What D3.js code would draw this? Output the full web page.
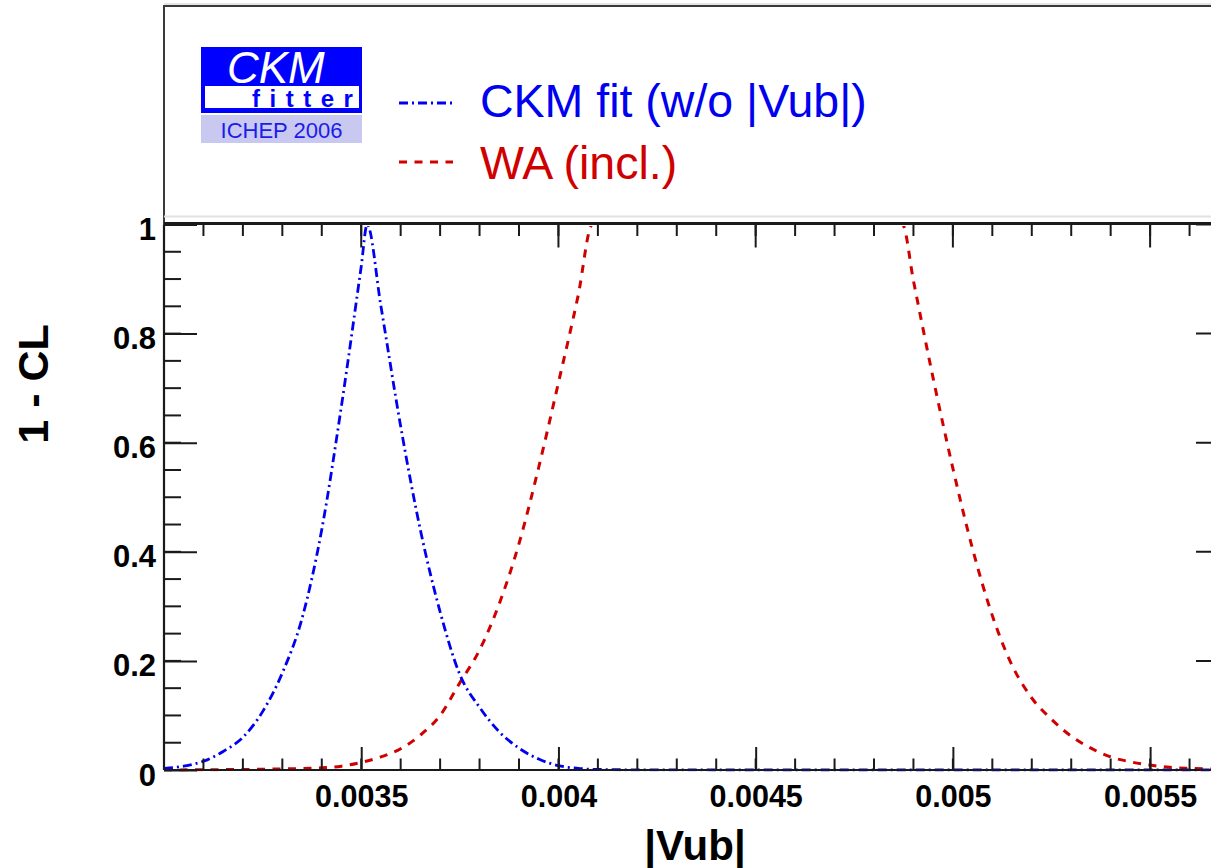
<!DOCTYPE html>
<html>
<head>
<meta charset="utf-8">
<script src="https://cdn.jsdelivr.net/npm/d3@7"></script>
<style>
  html, body { margin: 0; padding: 0; background: #fff; }
  svg { display: block; }
  text { font-family: "Liberation Sans", Arial, Helvetica, sans-serif; }
</style>
</head>
<body>
<svg id="chart" width="1211" height="868"></svg>
<script>
// |Vub| scan: 1 - CL profiles
const ckmVub = [0.00300, 0.00305, 0.00310, 0.00315, 0.00320, 0.00325, 0.00330, 0.00335,
                0.00340, 0.00345, 0.00350, 0.003515, 0.00355, 0.00360, 0.00365, 0.00370,
                0.00375, 0.00380, 0.00385, 0.00390, 0.00395, 0.00400, 0.00405, 0.00410,
                0.00420, 0.00450, 0.00500, 0.00570];
const ckmCL  = [0.003, 0.007, 0.016, 0.034, 0.060, 0.107, 0.178, 0.278,
                0.441, 0.668, 0.923, 1.000, 0.850, 0.630, 0.440, 0.290,
                0.175, 0.115, 0.070, 0.040, 0.020, 0.008, 0.003, 0.001,
                0.0003, 0, 0, 0];

const waVub = [0.00300, 0.00310, 0.00320, 0.00330, 0.00340, 0.00345, 0.00350, 0.00355,
               0.00360, 0.00365, 0.00370, 0.00375, 0.00380, 0.00385, 0.00390, 0.00395,
               0.00400, 0.00405, 0.004086, 0.004872, 0.00490, 0.00495, 0.00500, 0.00505,
               0.00510, 0.00515, 0.00520, 0.00525, 0.00530, 0.00535, 0.00540, 0.00545,
               0.00550, 0.00555, 0.00560, 0.00570];
const waCL  = [0.000, 0.0005, 0.001, 0.002, 0.004, 0.007, 0.014, 0.024,
               0.039, 0.064, 0.100, 0.160, 0.220, 0.305, 0.415, 0.555,
               0.710, 0.870, 1.000, 1.000, 0.897, 0.718, 0.553, 0.405,
               0.283, 0.192, 0.132, 0.093, 0.062, 0.040, 0.024, 0.015,
               0.009, 0.005, 0.003, 0.001];

const xTicks = [0.0035, 0.004, 0.0045, 0.005, 0.0055];
const xTickLabels = ["0.0035", "0.004", "0.0045", "0.005", "0.0055"];
const yTicks = [0, 0.2, 0.4, 0.6, 0.8, 1];
const yTickLabels = ["0", "0.2", "0.4", "0.6", "0.8", "1"];

const seriesNames = ["CKM fit (w/o |Vub|)", "WA (incl.)"];
const xTitle = "|Vub|";
const yTitle = "1 - CL";

// ---- layout ----
const svg = d3.select("#chart");
const frame = { left: 164, right: 1229, top: 224.5, bottom: 770 };
const x = d3.scaleLinear().domain([0.003, 0.0057]).range([frame.left, frame.right]);
const y = d3.scaleLinear().domain([0, 1]).range([frame.bottom, frame.top]);

const axisColor = "#1a1a1a";
const blue = "#0000f0";
const red = "#d00000";

svg.append("rect").attr("width", 1211).attr("height", 868).attr("fill", "#fff");

// clip the curves to the inside of the frame
svg.append("defs").append("clipPath").attr("id", "plotClip")
  .append("rect").attr("x", frame.left).attr("y", frame.top + 1.6)
  .attr("width", frame.right - frame.left).attr("height", frame.bottom - frame.top);

// ---- header box with logo and legend ----
svg.append("line").attr("x1", frame.left).attr("x2", 1240).attr("y1", 4).attr("y2", 4)
  .attr("stroke", "#c8c8c8").attr("stroke-width", 1);
svg.append("line").attr("x1", frame.left - 1).attr("x2", 1240).attr("y1", 6).attr("y2", 6)
  .attr("stroke", "#3a3a3a").attr("stroke-width", 2.2);
svg.append("line").attr("x1", frame.left).attr("x2", frame.left).attr("y1", 5).attr("y2", frame.top)
  .attr("stroke", "#3a3a3a").attr("stroke-width", 2);
svg.append("line").attr("x1", frame.left).attr("x2", 1240).attr("y1", 216.5).attr("y2", 216.5)
  .attr("stroke", "#e2e2e2").attr("stroke-width", 2);

// logo
const logo = svg.append("g");
logo.append("rect").attr("x", 201).attr("y", 47).attr("width", 161).attr("height", 66).attr("fill", "#0000ff");
logo.append("rect").attr("x", 205).attr("y", 86).attr("width", 154).attr("height", 22).attr("fill", "#fff");
logo.append("text").attr("x", 227).attr("y", 83).attr("fill", "#fff")
  .attr("font-size", 44).attr("font-style", "italic").text("CKM");
logo.append("text").attr("x", 252).attr("y", 107.3).attr("fill", "#0000ff")
  .attr("font-size", 24).attr("font-weight", "bold").attr("letter-spacing", 9.5).text("fitter");
logo.append("rect").attr("x", 201).attr("y", 115).attr("width", 161).attr("height", 28).attr("fill", "#c8c8f0");
logo.append("text").attr("x", 281.5).attr("y", 138.3).attr("text-anchor", "middle").attr("fill", "#1c1ce8")
  .attr("font-size", 22).text("ICHEP 2006");

// legend
const legend = svg.append("g");
const legendRows = [
  { name: seriesNames[0], color: blue, dash: "9,4,2,4", ly: 103, ty: 117 },
  { name: seriesNames[1], color: red, dash: "8,7.5", ly: 162, ty: 179 }
];
legendRows.forEach(r => {
  legend.append("line").attr("x1", 399).attr("x2", 453).attr("y1", r.ly).attr("y2", r.ly)
    .attr("stroke", r.color).attr("stroke-width", 3).attr("stroke-dasharray", r.dash);
  legend.append("text").attr("x", 480).attr("y", r.ty).attr("fill", r.color)
    .attr("font-size", 46.5).text(r.name);
});

// ---- curves ----
const line = d3.line().x(d => x(d[0])).y(d => y(d[1])).curve(d3.curveMonotoneX);
const ckmData = ckmVub.map((v, i) => [v, ckmCL[i]]);
const waData = waVub.map((v, i) => [v, waCL[i]]);

const curves = svg.append("g").attr("clip-path", "url(#plotClip)");
curves.append("path").datum(waData).attr("d", line)
  .attr("fill", "none").attr("stroke", red).attr("stroke-width", 3)
  .attr("stroke-dasharray", "8,7.5");
curves.append("path").datum(ckmData).attr("d", line)
  .attr("fill", "none").attr("stroke", blue).attr("stroke-width", 2.8)
  .attr("stroke-dasharray", "9,4,2,4");

// ---- axes ----
const xMinor = d3.range(30, 58).map(i => i / 10000);
const yMinor = d3.range(0, 21).map(i => i / 20);
const axes = svg.append("g").attr("stroke", axisColor).attr("stroke-width", 2);

// minor / major ticks on bottom and top
axes.selectAll(".xminor").data(xMinor).join("line")
  .attr("x1", d => x(d)).attr("x2", d => x(d))
  .attr("y1", frame.bottom).attr("y2", frame.bottom - 11.5);
axes.selectAll(".xminorTop").data(xMinor).join("line")
  .attr("x1", d => x(d)).attr("x2", d => x(d))
  .attr("y1", frame.top).attr("y2", frame.top + 11.5);
axes.selectAll(".xmajTop").data(xTicks).join("line")
  .attr("x1", d => x(d)).attr("x2", d => x(d))
  .attr("y1", frame.top).attr("y2", frame.top + 23);
// minor ticks on left and right
axes.selectAll(".yminor").data(yMinor).join("line")
  .attr("x1", frame.left).attr("x2", frame.left + 17)
  .attr("y1", d => y(d)).attr("y2", d => y(d));
axes.selectAll(".yminorR").data(yMinor).join("line")
  .attr("x1", frame.right).attr("x2", frame.right - 17)
  .attr("y1", d => y(d)).attr("y2", d => y(d));
axes.selectAll(".ymajR").data(yTicks).join("line")
  .attr("x1", frame.right).attr("x2", frame.right - 33)
  .attr("y1", d => y(d)).attr("y2", d => y(d));

// labelled axes
const xAxis = d3.axisBottom(x).tickValues(xTicks).tickSize(-23).tickPadding(0)
  .tickFormat((d, i) => xTickLabels[i]);
const gx = svg.append("g").attr("transform", `translate(0,${frame.bottom})`).call(xAxis);
gx.select(".domain").remove();
gx.selectAll(".tick line").attr("stroke", axisColor).attr("stroke-width", 2);
gx.selectAll(".tick text").attr("dy", null).attr("y", 37)
  .attr("font-family", "Liberation Sans, Arial, sans-serif")
  .attr("font-size", 30.5).attr("font-weight", "bold").attr("fill", "#000");

const yAxis = d3.axisLeft(y).tickValues(yTicks).tickSize(-33).tickPadding(0)
  .tickFormat((d, i) => yTickLabels[i]);
const gy = svg.append("g").attr("transform", `translate(${frame.left},0)`).call(yAxis);
gy.select(".domain").remove();
gy.selectAll(".tick line").attr("stroke", axisColor).attr("stroke-width", 2);
gy.selectAll(".tick text").attr("dy", null).attr("x", -8).attr("y", 15)
  .attr("font-family", "Liberation Sans, Arial, sans-serif")
  .attr("font-size", 31).attr("font-weight", "bold").attr("fill", "#000");

// frame
svg.append("line").attr("x1", frame.left).attr("x2", frame.right).attr("y1", frame.top - 1).attr("y2", frame.top - 1)
  .attr("stroke", axisColor).attr("stroke-width", 3.2);
svg.append("line").attr("x1", frame.left).attr("x2", frame.right).attr("y1", frame.bottom).attr("y2", frame.bottom)
  .attr("stroke", axisColor).attr("stroke-width", 2.2);
svg.append("line").attr("x1", frame.left).attr("x2", frame.left).attr("y1", frame.top).attr("y2", frame.bottom)
  .attr("stroke", axisColor).attr("stroke-width", 2.2);
svg.append("line").attr("x1", frame.right).attr("x2", frame.right).attr("y1", frame.top).attr("y2", frame.bottom)
  .attr("stroke", axisColor).attr("stroke-width", 2.2);

// axis titles
svg.append("text").attr("x", 695).attr("y", 860).attr("text-anchor", "middle")
  .attr("font-size", 42).attr("font-weight", "bold").text(xTitle);
svg.append("text").attr("transform", "translate(48,384) rotate(-90)").attr("text-anchor", "middle")
  .attr("font-size", 43).attr("font-weight", "bold").text(yTitle);
</script>
</body>
</html>
